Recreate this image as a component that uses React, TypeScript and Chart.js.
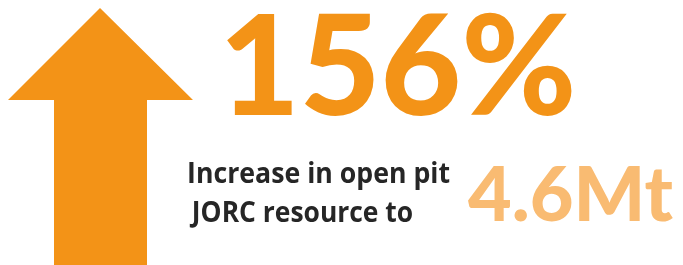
import React, { useEffect, useRef } from "react";
import { Chart, registerables } from "chart.js";

Chart.register(...registerables);

// Arrow outline (in the 683 x 265 canvas space, y downward)
const arrowX = [100, 8, 54, 54, 147, 147, 193, 100];
const arrowY = [8, 100, 100, 265, 265, 100, 100, 8];

// Text labels
const headline = "156%";
const captionLines = ["Increase in open pit", "JORC resource to"];
const resourceValue = "4.6Mt";

const ORANGE = "#F39317";
const LIGHT_ORANGE = "#F9BB72";
const DARK = "#262626";

type TextBox = { text: string; left: number; right: number; capTop: number; baseline: number; color: string; font: string };

const textBoxes: TextBox[] = [
  { text: headline, left: 227, right: 572, capTop: 13, baseline: 115, color: ORANGE, font: "900 SIZEpx Lato" },
  { text: captionLines[0], left: 189, right: 450, capTop: 163, baseline: 183, color: DARK, font: "bold SIZEpx 'Open Sans'" },
  { text: captionLines[1], left: 189, right: 412, capTop: 202, baseline: 222, color: DARK, font: "bold SIZEpx 'Open Sans'" },
  { text: resourceValue, left: 468, right: 673, capTop: 165, baseline: 221, color: LIGHT_ORANGE, font: "900 SIZEpx Lato" },
];

const textPlugin = {
  id: "infographicText",
  afterDraw(chart: any) {
    const ctx: CanvasRenderingContext2D = chart.ctx;
    const xs = chart.scales.x;
    const ys = chart.scales.y;
    for (const b of textBoxes) {
      const left = xs.getPixelForValue(b.left);
      const right = xs.getPixelForValue(b.right);
      const top = ys.getPixelForValue(b.capTop);
      const base = ys.getPixelForValue(b.baseline);
      const capH = base - top;
      ctx.save();
      ctx.font = b.font.replace("SIZE", "100");
      const hm = ctx.measureText("H");
      const size = (100 * capH) / hm.actualBoundingBoxAscent;
      ctx.font = b.font.replace("SIZE", String(size));
      const m = ctx.measureText(b.text);
      const w = m.actualBoundingBoxLeft + m.actualBoundingBoxRight;
      const sx = (right - left) / w;
      ctx.translate(left, base);
      ctx.scale(sx, 1);
      ctx.fillStyle = b.color;
      ctx.textBaseline = "alphabetic";
      ctx.textAlign = "left";
      ctx.fillText(b.text, m.actualBoundingBoxLeft, 0);
      ctx.restore();
    }
  },
};

export default function App() {
  const ref = useRef<HTMLCanvasElement>(null);
  useEffect(() => {
    document.body.style.margin = "0";
    const chart = new Chart(ref.current!, {
      type: "scatter",
      data: {
        datasets: [
          {
            data: arrowX.map((x, i) => ({ x, y: arrowY[i] })),
            showLine: true,
            fill: "shape",
            backgroundColor: ORANGE,
            borderColor: ORANGE,
            borderWidth: 0,
            pointRadius: 0,
            tension: 0,
          } as any,
        ],
      },
      options: {
        animation: false,
        responsive: false,
        maintainAspectRatio: false,
        layout: { padding: 0 },
        plugins: { legend: { display: false }, tooltip: { enabled: false } },
        scales: {
          x: { type: "linear", min: 0, max: 683, display: false },
          y: { type: "linear", min: 0, max: 265, reverse: true, display: false },
        },
      },
      plugins: [textPlugin],
    });
    return () => chart.destroy();
  }, []);
  return (
    <div style={{ position: "absolute", left: 0, top: 0, width: 683, height: 265, background: "#fff" }}>
      <canvas ref={ref} width={683} height={265} />
    </div>
  );
}
